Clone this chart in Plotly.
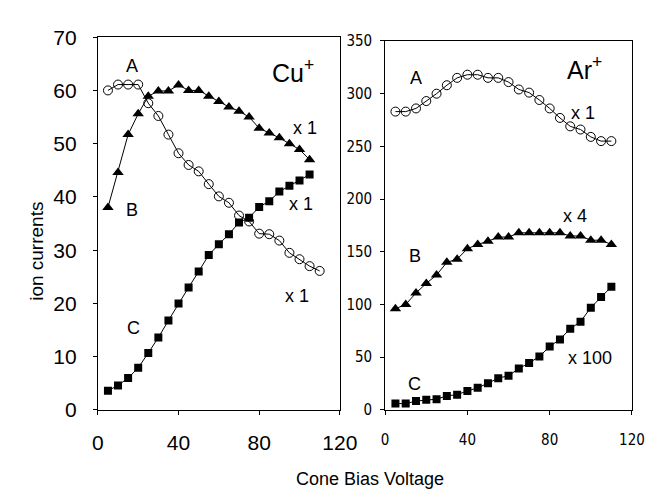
import plotly.graph_objects as go

x_left = [5, 10, 15, 20, 25, 30, 35, 40, 45, 50, 55, 60, 65, 70, 75, 80, 85, 90, 95, 100, 105, 110]
cu_a = [60.0, 61.1, 61.1, 61.1, 57.6, 55.2, 51.7, 48.2, 46.0, 44.8, 42.4, 40.1, 38.9, 36.5, 35.4,
        33.1, 33.0, 31.8, 29.5, 28.3, 27.0, 26.1]
x_left_b = x_left[:21]
cu_b = [38.0, 44.6, 51.7, 55.6, 58.9, 59.9, 59.9, 61.0, 60.0, 60.0, 58.9, 57.9, 56.9, 56.1, 55.0,
        52.9, 52.0, 51.1, 50.0, 48.9, 47.0]
cu_c = [3.6, 4.6, 6.0, 7.9, 10.7, 13.6, 16.8, 20.0, 23.0, 26.0, 29.1, 31.1, 33.0, 35.2, 36.1,
        38.1, 39.2, 41.0, 42.1, 43.1, 44.2]

x_right = [5, 10, 15, 20, 25, 30, 35, 40, 45, 50, 55, 60, 65, 70, 75, 80, 85, 90, 95, 100, 105, 110]
ar_a = [283, 283, 286, 293, 300, 308, 315, 318, 318, 315, 315, 311, 304, 301, 294, 286, 277, 269,
        266, 259, 255, 255]
ar_b = [96, 100, 111, 120, 128, 140, 143, 153, 157, 160, 164, 164, 168, 168, 168, 168, 168, 165,
        165, 161, 161, 157]
ar_c = [6, 6, 8.4, 9.6, 10.2, 13.3, 14.5, 18, 21, 25.3, 30.1, 32.5, 39.2, 44.6, 50.6, 60.2, 66.9,
        77.1, 83.7, 97, 107.2, 116.9]

x_ticks = [0, 40, 80, 120]
y_ticks_left = [0, 10, 20, 30, 40, 50, 60, 70]
y_ticks_right = [0, 50, 100, 150, 200, 250, 300, 350]

fig = go.Figure()

line = dict(color="black", width=1)
circ = dict(symbol="circle-open", size=9, color="black", line=dict(width=1, color="black"))
tri = dict(symbol="triangle-up", size=10, color="black")
sq = dict(symbol="square", size=8, color="black")

fig.add_trace(go.Scatter(x=x_left, y=cu_a, mode="lines+markers", line=line, marker=circ, xaxis="x", yaxis="y"))
fig.add_trace(go.Scatter(x=x_left_b, y=cu_b, mode="lines+markers", line=line, marker=tri, xaxis="x", yaxis="y"))
fig.add_trace(go.Scatter(x=x_left_b, y=cu_c, mode="lines+markers", line=line, marker=sq, xaxis="x", yaxis="y"))
fig.add_trace(go.Scatter(x=x_right, y=ar_a, mode="lines+markers", line=line, marker=circ, xaxis="x2", yaxis="y2"))
fig.add_trace(go.Scatter(x=x_right, y=ar_b, mode="lines+markers", line=line, marker=tri, xaxis="x2", yaxis="y2"))
fig.add_trace(go.Scatter(x=x_right, y=ar_c, mode="lines+markers", line=line, marker=sq, xaxis="x2", yaxis="y2"))

W, H = 667, 493
axis_common = dict(showgrid=False, zeroline=False, showline=True, mirror=True, linecolor="black",
                   linewidth=1, ticks="outside", ticklen=4, tickcolor="black")

left_font = dict(family="Liberation Sans, Arial, sans-serif", size=21, color="black")
right_font = dict(family="Liberation Sans Narrow, Arial Narrow, DejaVu Sans Condensed, sans-serif",
                  size=15, color="black")

fig.update_layout(
    width=W, height=H,
    margin=dict(l=0, r=0, t=0, b=0),
    paper_bgcolor="white", plot_bgcolor="white",
    showlegend=False,
    xaxis=dict(domain=[87 / W, 338 / W], range=[0, 120], tickvals=x_ticks, tickfont=left_font,
               ticklabelstandoff=10, anchor="y", **axis_common),
    yaxis=dict(domain=[1 - 409 / H, 1 - 18 / H], range=[0, 70], tickvals=y_ticks_left,
               tickfont=left_font, ticklabelstandoff=12, anchor="x", **axis_common),
    xaxis2=dict(domain=[385 / W, 641 / W], range=[0, 120], tickvals=x_ticks, tickfont=right_font,
                ticklabelstandoff=12, anchor="y2", **axis_common),
    yaxis2=dict(domain=[1 - 409 / H, 1 - 22 / H], range=[0, 350], tickvals=y_ticks_right,
                tickfont=right_font, ticklabelstandoff=5, anchor="x2", **axis_common),
)

afont = dict(family="Liberation Sans, Arial, sans-serif", size=18, color="black")
bigfont = dict(family="Liberation Sans, Arial, sans-serif", size=25, color="black")

notes = [
    ("x", "y", 16.7, 64.6, "A", afont),
    ("x", "y", 97.0, 63.6, "Cu<sup>+</sup>", bigfont),
    ("x", "y", 102.9, 52.9, "x 1", afont),
    ("x", "y", 17.1, 37.5, "B", afont),
    ("x", "y", 100.5, 38.6, "x 1", afont),
    ("x", "y", 99.0, 21.3, "x 1", afont),
    ("x", "y", 17.6, 15.4, "C", afont),
    ("x2", "y2", 15.0, 314.7, "A", afont),
    ("x2", "y2", 97.0, 324.7, "Ar<sup>+</sup>", bigfont),
    ("x2", "y2", 96.1, 281.3, "x 1", afont),
    ("x2", "y2", 92.4, 183.6, "x 4", afont),
    ("x2", "y2", 14.5, 145.6, "B", afont),
    ("x2", "y2", 14.5, 24.4, "C", afont),
    ("x2", "y2", 99.4, 49.7, "x 100", afont),
]
for xr, yr, xv, yv, txt, f in notes:
    fig.add_annotation(x=xv, y=yv, xref=xr, yref=yr, text=txt, showarrow=False, font=f,
                       xanchor="center", yanchor="middle")

fig.add_annotation(x=23 / W, y=1 - 243 / H, xref="paper", yref="paper", text="ion currents",
                   textangle=-90, showarrow=False, xanchor="center", yanchor="middle",
                   font=dict(family="Liberation Sans, Arial, sans-serif", size=19, color="black"))
fig.add_annotation(x=369 / W, y=1 - 481 / H, xref="paper", yref="paper", text="Cone Bias Voltage",
                   showarrow=False, xanchor="center", yanchor="middle",
                   font=dict(family="Liberation Sans, Arial, sans-serif", size=18, color="black"))

fig.write_html("out.html")
